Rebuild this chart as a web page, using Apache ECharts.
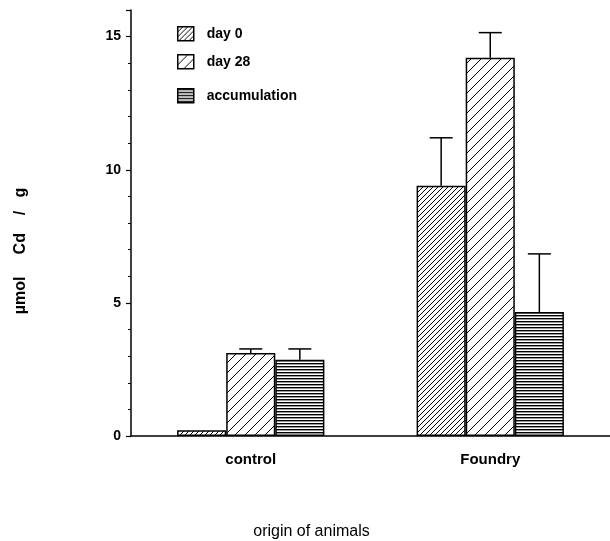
<!DOCTYPE html>
<html>
<head>
<meta charset="utf-8">
<script src="https://cdn.jsdelivr.net/npm/echarts@6/dist/echarts.min.js"></script>
<style>html,body{margin:0;padding:0;background:#fff;}#c{width:610px;height:541px;}</style>
</head>
<body>
<div id="c"></div>
<script>
const categories = ['control', 'Foundry'];
const seriesNames = ['day 0', 'day 28', 'accumulation'];
const day0 = [0.22, 9.40];
const day28 = [3.12, 14.21];
const accumulation = [2.86, 4.66];
const day0ErrTop = [null, 11.2];
const day28ErrTop = [3.27, 15.15];
const accumulationErrTop = [3.27, 6.84];
const yTickLabels = [0, 5, 10, 15];

function diagPattern(size, lw) {
  const c = document.createElement('canvas');
  c.width = size; c.height = size;
  const g = c.getContext('2d');
  g.fillStyle = '#fff'; g.fillRect(0, 0, size, size);
  g.strokeStyle = '#000'; g.lineWidth = lw;
  g.beginPath();
  g.moveTo(-1, size + 1); g.lineTo(size + 1, -1);
  g.moveTo(-1, 1); g.lineTo(1, -1);
  g.moveTo(size - 1, size + 1); g.lineTo(size + 1, size - 1);
  g.stroke();
  return c;
}
function horizPattern(period, lw) {
  const c = document.createElement('canvas');
  c.width = 8; c.height = period;
  const g = c.getContext('2d');
  g.fillStyle = '#fff'; g.fillRect(0, 0, 8, period);
  g.fillStyle = '#000'; g.fillRect(0, 0, 8, lw);
  return c;
}
const pats = [
  { image: diagPattern(5, 1), repeat: 'repeat' },
  { image: diagPattern(10, 1), repeat: 'repeat' },
  { image: horizPattern(3, 1.4), repeat: 'repeat' }
];
const values = [day0, day28, accumulation];
const errTops = [day0ErrTop, day28ErrTop, accumulationErrTop];
const BAR_FRAC = 0.205;

const chart = echarts.init(document.getElementById('c'), null, { renderer: 'canvas' });

const series = [];
seriesNames.forEach((n, k) => {
  series.push({
    name: n, type: 'bar', xAxisIndex: 0, yAxisIndex: 0,
    barWidth: (BAR_FRAC * 100) + '%', barGap: '0%',
    itemStyle: { color: pats[k], borderColor: '#000', borderWidth: 1.5 },
    data: values[k],
    z: 2
  });
});
seriesNames.forEach((n, k) => {
  const data = categories.map((c, i) => [i, values[k][i], errTops[k][i]]).filter(d => d[2] != null);
  series.push({
    name: n + ' err', type: 'custom', xAxisIndex: 0, yAxisIndex: 0,
    data: data,
    encode: { x: 0, y: 1 },
    z: 3,
    renderItem: function (params, api) {
      const base = api.coord([api.value(0), api.value(1)]);
      const top = api.coord([api.value(0), api.value(2)]);
      const band = api.size([1, 0])[0];
      const bw = band * BAR_FRAC;
      const cx = base[0] + (k - 1) * bw;
      const cap = 11.5;
      return {
        type: 'group',
        children: [
          { type: 'line', shape: { x1: cx, y1: base[1], x2: cx, y2: top[1] }, style: { stroke: '#000', lineWidth: 1.5 } },
          { type: 'line', shape: { x1: cx - cap, y1: top[1], x2: cx + cap, y2: top[1] }, style: { stroke: '#000', lineWidth: 1.5 } }
        ]
      };
    }
  });
});

const legendTops = [21, 49, 83];
const legends = seriesNames.map((n, k) => ({
  data: [n], left: 172, top: legendTops[k], orient: 'vertical',
  itemWidth: 16, itemHeight: 14, icon: 'rect', selectedMode: false,
  itemStyle: { borderColor: '#000', borderWidth: 1.5 },
  textStyle: { fontFamily: 'Liberation Sans', fontSize: 14, fontWeight: 'bold', color: '#000', padding: [0, 0, 0, 8] }
}));

chart.setOption({
  animation: false,
  backgroundColor: '#fff',
  legend: legends,
  grid: { left: 131, right: 0, top: 10, bottom: 105, containLabel: false, outerBoundsMode: 'none' },
  xAxis: {
    type: 'category', data: categories,
    axisLine: { lineStyle: { color: '#000', width: 1.5 } },
    axisTick: { show: false },
    axisLabel: { margin: 16, color: '#000', fontFamily: 'Liberation Sans', fontSize: 15, fontWeight: 'bold' },
    name: 'origin of animals', nameLocation: 'middle', nameGap: 88,
    nameTextStyle: { color: '#000', fontFamily: 'Liberation Sans', fontSize: 16, padding: [0, 118, 0, 0] }
  },
  yAxis: [
    {
      type: 'value', min: 0, max: 16, interval: 5,
      axisLine: { show: true, lineStyle: { color: '#000', width: 1.5 } },
      axisTick: { show: true, length: 5, lineStyle: { color: '#000', width: 1.2 } },
      splitLine: { show: false },
      axisLabel: {
        margin: 10, color: '#000', fontFamily: 'Liberation Sans', fontSize: 14, fontWeight: 'bold',
        formatter: v => (yTickLabels.indexOf(v) >= 0 ? String(v) : '')
      },
      name: 'µmol     Cd    /   g', nameLocation: 'middle', nameGap: 102, nameRotate: 90,
      nameTextStyle: { color: '#000', fontFamily: 'Liberation Sans', fontSize: 16, fontWeight: 'bold', padding: [0, 56, 0, 0] }
    },
    {
      type: 'value', min: 0, max: 16, interval: 1, position: 'left',
      axisLine: { show: false },
      axisTick: { show: true, length: 3, lineStyle: { color: '#000', width: 1 } },
      splitLine: { show: false },
      axisLabel: { show: false }
    }
  ],
  series: series
});
</script>
</body>
</html>
